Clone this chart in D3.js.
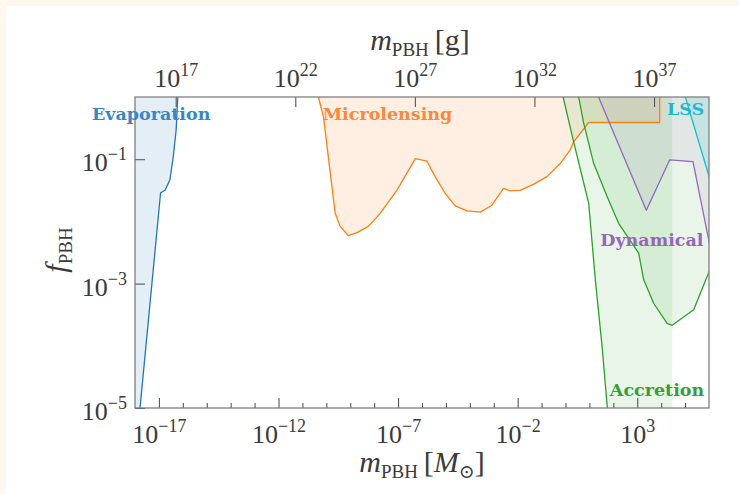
<!DOCTYPE html>
<html>
<head>
<meta charset="utf-8">
<script src="https://cdn.jsdelivr.net/npm/d3@7"></script>
<style>
  html, body { margin: 0; padding: 0; background: #fdf7ee; }
  svg { display: block; }
</style>
</head>
<body>
<svg id="chart" width="739" height="494"></svg>
<script>
// ---------- data (log10 M [M_sun], log10 f_PBH) ----------
const xDomainExp = [-18, 6];
const yDomainExp = [-5, 0];
const bottomTickExp = [-17, -12, -7, -2, 3];
const topTickExpGrams = [17, 22, 27, 32, 37];
const yTickExp = [-1, -3, -5];
const solarMassGrams = 1.989e33;

const evaporation = [[-17.91,-5.5],[-17.79,-5],[-16.93,-1.54],[-16.74,-1.50],[-16.54,-1.33],[-16.40,-0.96],[-16.28,-0.53],[-16.21,0],[-16.17,0.3]];
const microlensing = [[-10.38,0.3],[-10.33,0],[-10.12,-0.32],[-9.63,-1.87],[-9.42,-2.08],[-9.08,-2.23],[-8.72,-2.18],[-8.24,-2.08],[-7.75,-1.87],[-7.05,-1.50],[-6.28,-0.99],[-5.80,-1.03],[-5.45,-1.28],[-5.03,-1.55],[-4.61,-1.75],[-4.12,-1.83],[-3.56,-1.85],[-3.08,-1.74],[-2.59,-1.47],[-2.31,-1.51],[-1.89,-1.50],[-1.33,-1.40],[-0.77,-1.28],[-0.22,-1.07],[0.20,-0.85],[0.34,-0.72],[0.97,-0.41],[3.94,-0.41],[3.94,0],[3.94,0.3]];
const accretionA = [[-0.28,0.3],[-0.10,0],[0.34,-0.72],[0.97,-1.71],[1.25,-2.95],[1.53,-4.01],[1.75,-5],[1.78,-5.5]];
const accretionAEdge = 4.46;
const accretionB = [[0.45,0.3],[0.55,0],[0.76,-0.42],[1.18,-1.07],[1.74,-1.60],[2.22,-2.03],[3.06,-2.51],[3.27,-2.94],[3.69,-3.32],[4.25,-3.64],[4.46,-3.67],[5.36,-3.42],[5.92,-2.89],[6.1,-2.72]];
const dynamical = [[1.05,0.3],[1.38,0],[3.38,-1.82],[4.36,-1.01],[5.33,-1.04],[5.92,-2.17],[6.1,-2.5]];
const lss = [[4.93,0.1],[5.01,0],[5.92,-1.17],[6.1,-1.4]];

const labels = [
  {text: "Evaporation", x: -19.8, y: -0.29, color: "#3a86c5", anchor: "start"},
  {text: "Microlensing", x: -10.15, y: -0.29, color: "#f9883a", anchor: "start"},
  {text: "LSS", x: 5.8, y: -0.21, color: "#1fb6d4", anchor: "end"},
  {text: "Dynamical", x: 5.77, y: -2.32, color: "#9366bd", anchor: "end"},
  {text: "Accretion", x: 5.8, y: -4.73, color: "#33a033", anchor: "end"}
];

// ---------- layout ----------
const svg = d3.select("#chart");
const L = 135, R = 709, T = 97, B = 408;
const p = v => Math.pow(10, v);

svg.append("rect").attr("x", 6).attr("y", 6).attr("width", 733).attr("height", 488).attr("fill", "#ffffff");

const x = d3.scaleLog().domain(xDomainExp.map(p)).range([L, R]);
const xg = d3.scaleLog().domain(xDomainExp.map(e => p(e) * solarMassGrams)).range([L, R]);
const y = d3.scaleLog().domain(yDomainExp.map(p)).range([B, T]);

const defs = svg.append("defs");
defs.append("clipPath").attr("id", "clip").append("rect")
  .attr("x", L).attr("y", T).attr("width", R - L).attr("height", B - T);

const plot = svg.append("g").attr("clip-path", "url(#clip)");
const line = d3.line().x(d => x(p(d[0]))).y(d => y(p(d[1])));

function area(pts, color, op) {
  plot.append("path").attr("d", line(pts) + "Z")
    .attr("fill", color).attr("fill-opacity", op).attr("stroke", "none");
}
function curve(pts, color) {
  plot.append("path").attr("d", line(pts))
    .attr("fill", "none").attr("stroke", color).attr("stroke-width", 1.3)
    .attr("stroke-linejoin", "round");
}

const cBlue = "#1f77b4", cOrange = "#ff7f0e", cGreen = "#2ca02c", cPurple = "#9467bd", cCyan = "#17becf";

// fills
area(evaporation.concat([[-18.5, 0.3], [-18.5, -5.5]]), cBlue, 0.12);
area(microlensing, cOrange, 0.12);
area(accretionA.concat([[accretionAEdge, -5.5], [accretionAEdge, 0.3]]), cGreen, 0.1);
area(accretionB.concat([[6.2, -2.7], [6.2, 0.3]]), cGreen, 0.1);
area(dynamical.concat([[6.2, -2.5], [6.2, 0.3]]), cPurple, 0.1);
area(lss.concat([[6.2, -1.4], [6.2, 0.3]]), cCyan, 0.12);

// lines
curve(evaporation, cBlue);
curve(microlensing, cOrange);
curve(accretionA, cGreen);
curve(accretionB, cGreen);
curve(dynamical, cPurple);
curve(lss, cCyan);

// ---------- axes ----------
const tickColor = "#555";
const labelColor = "#3a3a3a";
const fontFam = "'Liberation Serif', 'DejaVu Serif', serif";

function styleAxis(g) {
  g.select(".domain").remove();
  g.selectAll("line").attr("stroke", tickColor).attr("stroke-width", 1.1);
}
function supLabel(sel, expFn) {
  sel.selectAll("text").each(function(d) {
    const t = d3.select(this);
    t.text(null).attr("fill", labelColor).attr("font-family", fontFam).attr("font-size", 26);
    t.append("tspan").text("10");
    const e = expFn(d);
    t.append("tspan").attr("font-size", 18).attr("dy", -11).text(e < 0 ? "\u2212" + (-e) : String(e));
  });
}

// bottom minor ticks
const minorBottom = d3.range(xDomainExp[0], xDomainExp[1] + 1).filter(e => !bottomTickExp.includes(e) && e > xDomainExp[0] && e < xDomainExp[1]);
const gMinor = svg.append("g").attr("transform", `translate(0,${B})`)
  .call(d3.axisBottom(x).tickValues(minorBottom.map(p)).tickSize(-5).tickFormat(""));
styleAxis(gMinor);

const gBottom = svg.append("g").attr("transform", `translate(0,${B})`)
  .call(d3.axisBottom(x).tickValues(bottomTickExp.map(p)).tickSize(-10).tickPadding(22));
styleAxis(gBottom);
gBottom.selectAll("text").attr("dy", "0.5em");
supLabel(gBottom, d => Math.round(Math.log10(d)));

const gTop = svg.append("g").attr("transform", `translate(0,${T})`)
  .call(d3.axisTop(xg).tickValues(topTickExpGrams.map(p)).tickSize(-10).tickPadding(10));
styleAxis(gTop);
supLabel(gTop, d => Math.round(Math.log10(d)));

const gLeft = svg.append("g").attr("transform", `translate(${L},0)`)
  .call(d3.axisLeft(y).tickValues(yTickExp.map(p)).tickSize(-10).tickPadding(8));
styleAxis(gLeft);
gLeft.selectAll("text").attr("dy", "0.45em");
supLabel(gLeft, d => Math.round(Math.log10(d)));

// frame
svg.append("rect").attr("x", L).attr("y", T).attr("width", R - L).attr("height", B - T)
  .attr("fill", "none").attr("stroke", "#808080").attr("stroke-width", 1.3);

// ---------- region labels ----------
labels.forEach(l => {
  svg.append("text").attr("x", x(p(l.x))).attr("y", y(p(l.y)))
    .attr("text-anchor", l.anchor).attr("fill", l.color)
    .attr("font-family", "'DejaVu Serif', serif").attr("font-weight", "bold").attr("font-size", 17.5)
    .attr("dominant-baseline", "middle")
    .text(l.text);
});

// ---------- axis titles ----------
function title(g, parts) {
  parts.forEach(pt => {
    const ts = g.append("tspan").text(pt.t);
    if (pt.italic) ts.attr("font-style", "italic");
    if (pt.size) ts.attr("font-size", pt.size);
    if (pt.dy) ts.attr("dy", pt.dy);
  });
}
const topTitle = svg.append("text").attr("x", 420).attr("y", 50).attr("text-anchor", "middle")
  .attr("font-family", fontFam).attr("font-size", 30).attr("fill", labelColor);
title(topTitle, [{t: "m", italic: true}, {t: "PBH", size: 19, dy: 6}, {t: "\u2009[g]", dy: -6}]);

const botTitle = svg.append("text").attr("x", 422).attr("y", 472).attr("text-anchor", "middle")
  .attr("font-family", fontFam).attr("font-size", 30).attr("fill", labelColor);
title(botTitle, [{t: "m", italic: true}, {t: "PBH", size: 19, dy: 6}, {t: "\u2009[", dy: -6}, {t: "M", italic: true}, {t: "\u2299", size: 19, dy: 6}, {t: "]", dy: -6}]);

const yTitle = svg.append("text").attr("transform", "translate(66,250) rotate(-90)").attr("text-anchor", "middle")
  .attr("font-family", fontFam).attr("font-size", 30).attr("fill", labelColor);
title(yTitle, [{t: "f", italic: true}, {t: "PBH", size: 19, dy: 6}]);
</script>
</body>
</html>
